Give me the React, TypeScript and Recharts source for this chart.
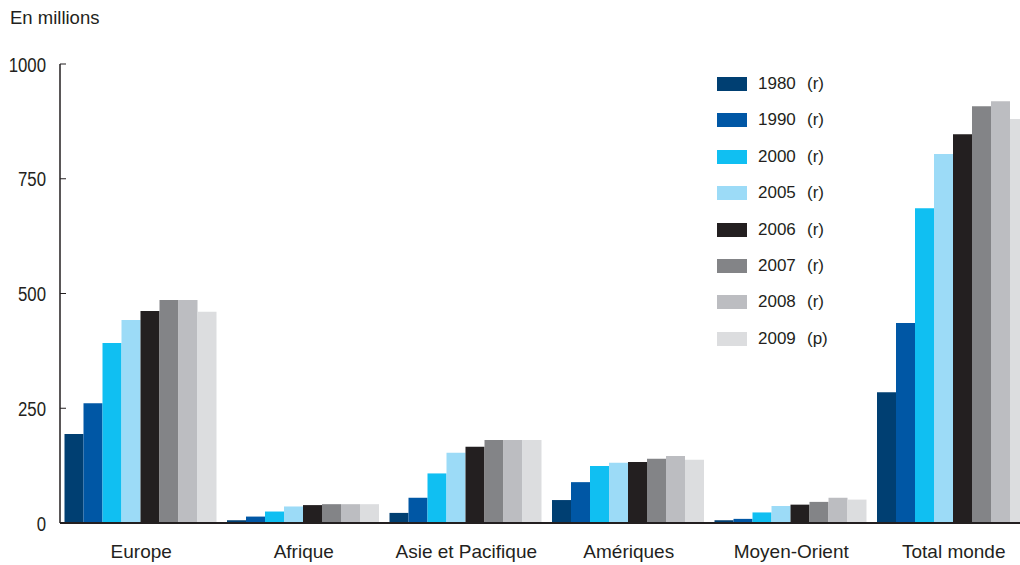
import { BarChart, Bar, XAxis, YAxis } from 'recharts';

const categories = ['Europe', 'Afrique', 'Asie et Pacifique', 'Amériques', 'Moyen-Orient', 'Total monde'];

const v1980 = [194, 6, 22, 50, 6, 285];
const v1990 = [261, 14, 55, 89, 9, 436];
const v2000 = [392, 25, 108, 124, 23, 686];
const v2005 = [442, 36, 153, 131, 37, 804];
const v2006 = [462, 39, 166, 133, 40, 847];
const v2007 = [486, 41, 181, 140, 46, 908];
const v2008 = [486, 41, 181, 146, 55, 919];
const v2009 = [460, 41, 181, 138, 51, 880];

const yTicks = [0, 250, 500, 750, 1000];

const series = [
	{ key: 'y1980', year: '1980', note: '(r)', values: v1980, color: '#003f72' },
	{ key: 'y1990', year: '1990', note: '(r)', values: v1990, color: '#0057a5' },
	{ key: 'y2000', year: '2000', note: '(r)', values: v2000, color: '#10bff2' },
	{ key: 'y2005', year: '2005', note: '(r)', values: v2005, color: '#9cdbf7' },
	{ key: 'y2006', year: '2006', note: '(r)', values: v2006, color: '#231f20' },
	{ key: 'y2007', year: '2007', note: '(r)', values: v2007, color: '#838487' },
	{ key: 'y2008', year: '2008', note: '(r)', values: v2008, color: '#bcbdc1' },
	{ key: 'y2009', year: '2009', note: '(p)', values: v2009, color: '#dcdddf' },
];

const data = categories.map((name, i) => {
	const row: Record<string, string | number> = { name };
	series.forEach((s) => {
		row[s.key] = s.values[i];
	});
	return row;
});

const font = "'Liberation Sans', Arial, sans-serif";

// narrow-looking tick numbers (no condensed font installed)
const YTick = ({ x, y, payload }: any) => (
	<g transform={`translate(${x},${y})`}>
		<text
			transform='scale(0.8,1)'
			textAnchor='end'
			dy='0.36em'
			fill='#231f20'
			fontSize={21}
			fontFamily={font}
		>
			{payload.value}
		</text>
	</g>
);

const LegendBox = () => (
	<div
		style={{
			position: 'absolute',
			left: 717,
			top: 66,
			width: 160,
			fontFamily: font,
			fontSize: 17,
			color: '#231f20',
		}}
	>
		{series.map((s) => (
			<div key={s.key} style={{ position: 'relative', height: 36.4 }}>
				<span
					style={{
						position: 'absolute',
						left: 0,
						top: 11,
						width: 30,
						height: 14,
						background: s.color,
					}}
				/>
				<span style={{ position: 'absolute', left: 41, top: 8, lineHeight: '20px' }}>{s.year}</span>
				<span style={{ position: 'absolute', left: 90, top: 8, lineHeight: '20px' }}>{s.note}</span>
			</div>
		))}
	</div>
);

const App = () => {
	return (
		<div
			style={{
				position: 'absolute',
				left: 0,
				top: 0,
				width: 1020,
				height: 565,
				overflow: 'hidden',
				background: '#fff',
			}}
		>
			<div
				style={{
					position: 'absolute',
					left: 10,
					top: 7,
					fontFamily: font,
					fontSize: 18.5,
					color: '#231f20',
				}}
			>
				En millions
			</div>
			<BarChart
				width={1040}
				height={565}
				data={data}
				margin={{ top: 64, right: 5, left: 0, bottom: 0 }}
				barGap={0}
				barCategoryGap={4.5}
			>
				<XAxis
					dataKey='name'
					height={42}
					axisLine={{ stroke: '#231f20', strokeWidth: 2 }}
					tickLine={false}
					tickSize={6}
					tickMargin={16}
					tick={{ fill: '#231f20', fontSize: 19, fontFamily: font }}
					interval={0}
				/>
				<YAxis
					width={60}
					domain={[0, 1000]}
					ticks={yTicks}
					interval={0}
					axisLine={{ stroke: '#231f20', strokeWidth: 1.5 }}
					tickLine={{ stroke: '#231f20', strokeWidth: 1 }}
					tickSize={-6}
					tickMargin={20}
					tick={<YTick />}
				/>
				{series.map((s) => (
					<Bar
						key={s.key}
						dataKey={s.key}
						name={`${s.year} ${s.note}`}
						fill={s.color}
						isAnimationActive={false}
					/>
				))}
			</BarChart>
			<LegendBox />
		</div>
	);
};

export default App;
